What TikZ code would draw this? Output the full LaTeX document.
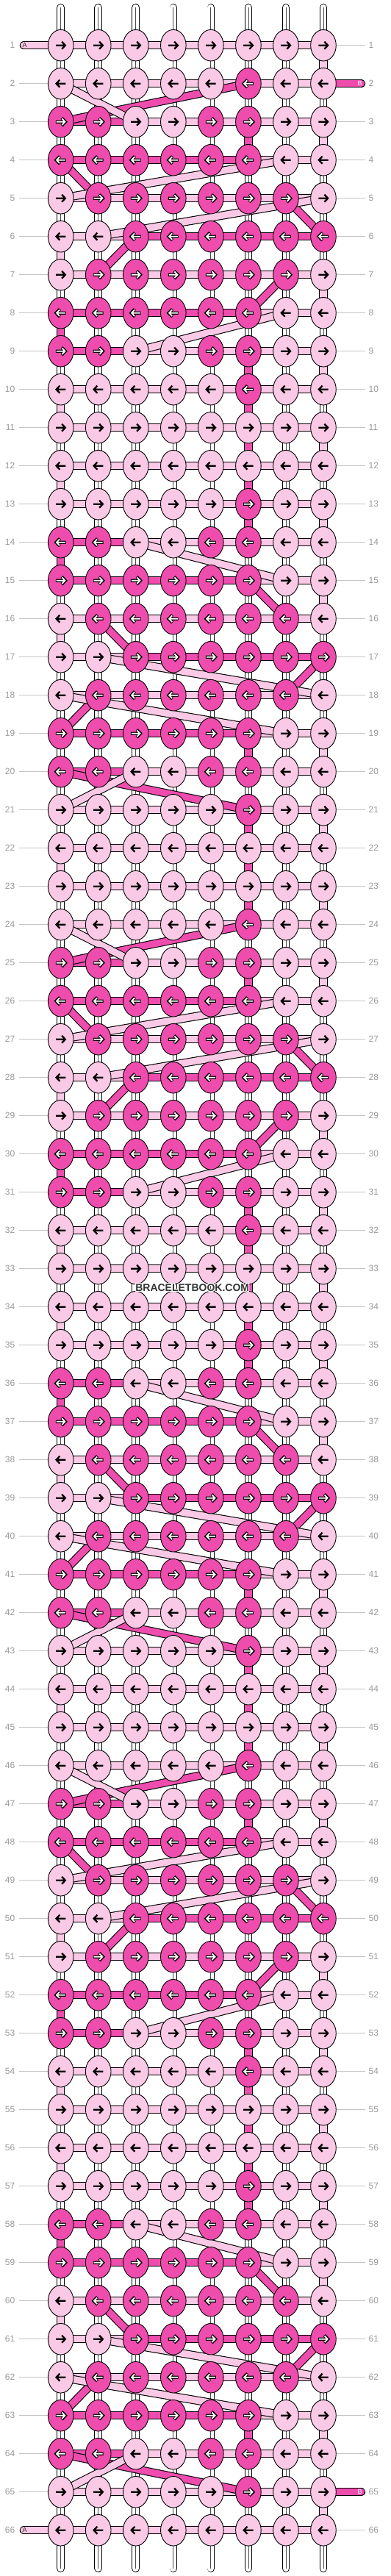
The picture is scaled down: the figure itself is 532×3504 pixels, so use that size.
\documentclass[tikz,border=0pt]{standalone}
\usepackage{fontspec}
\setmainfont{Liberation Sans}
\usetikzlibrary{shapes.geometric}
\definecolor{lp}{HTML}{F9C9E5}
\definecolor{dp}{HTML}{EE4DAE}
\definecolor{lblc}{HTML}{9A9A9A}
\definecolor{linec}{HTML}{C4C4C4}
\definecolor{wmc}{HTML}{333333}
\tikzset{
  knot/.style={ellipse, draw=black, line width=0.9pt, minimum width=34.6pt, minimum height=42.6pt, inner sep=0pt},
  lbl/.style={text=lblc, font=\fontsize{12}{14}\selectfont, inner sep=0pt},
  lblline/.style={draw=linec, line width=1pt},
  wmtext/.style={font=\bfseries\fontsize{14}{16}\selectfont, inner sep=0pt},
  arB/.pic={\draw[line width=2.3pt,line join=miter,black] (-6.7,0)--(5.6,0) (1.4,-5)--(6.1,0)--(1.4,5);},
  arW/.pic={\draw[line width=4.1pt,line join=miter,black] (-6.9,0)--(5.6,0) (1.3,-5.2)--(6.3,0)--(1.3,5.2);
            \draw[line width=1.8pt,line join=miter,white] (-6.0,0)--(5.4,0) (1.6,-4.3)--(5.7,0)--(1.6,4.3);},
}
\newcommand\strandbar[3]{\draw[line width=11.4pt,black] (#2)--(#3); \draw[line width=9.2pt,#1] (#2)--(#3);}
\begin{document}
\begin{tikzpicture}[x=1pt,y=-1pt]
\useasboundingbox (0,0) rectangle (532,3504);
\fill[white] (0,0) rectangle (532,3504);
% coordinates
\foreach \rr in {1,...,66}{
  \foreach \cc in {1,...,8}{
    \pgfmathsetmacro\xx{82.7+51.04*(\cc-1)}
    \pgfmathsetmacro\yy{61.7+52*(\rr-1)}
    \coordinate (p-\rr-\cc) at (\xx,\yy);
  }
  \pgfmathsetmacro\yy{61.7+52*(\rr-1)}
  \coordinate (ll-\rr) at (26,\yy);
  \coordinate (rl-\rr) at (497,\yy);
}
% row label lines
\foreach \rr in {2,...,65}{ \draw[lblline] (ll-\rr)--(p-\rr-1); }
\foreach \rr in {1,3,4,...,64,66}{ \draw[lblline] (rl-\rr)--(p-\rr-8); }
% warp strings
\foreach \cc in {1,...,8}{
  \pgfmathsetmacro\xx{82.7+51.04*(\cc-1)}
  \coordinate (t-\cc) at (\xx,10.4);
  \coordinate (b-\cc) at (\xx,3493.6);
  \draw[line width=10.6pt,black,line cap=round] (t-\cc)--(b-\cc);
  \draw[line width=8.8pt,white,line cap=round] (t-\cc)--(b-\cc);
  \draw[line width=0.8pt,black!70] (t-\cc)--(b-\cc);
}
% horizontal connectors
\foreach \rr in {1,...,66}{
  \pgfmathtruncatemacro\mm{mod(\rr-1,11)}
  \pgfmathtruncatemacro\ty{6-abs(5-\mm)}
  \foreach \cc in {1,...,7}{
    \pgfmathtruncatemacro\nx{\cc+1}
    \pgfmathtruncatemacro\dc{(\ty==3)*(\cc<3)+(\ty==4)*(\cc<6)+(\ty==6)*(\cc>2)}
    \ifnum\dc=1 \def\fc{dp}\else\def\fc{lp}\fi
    \strandbar{\fc}{p-\rr-\cc}{p-\rr-\nx}
  }
}
% dark strand transitions
\foreach \s in {1,23,45}{
  \foreach \oo/\ca/\cb in {0/6/6,1/6/1,2/6/6,3/1/2,4/7/8,5/3/2,6/7/6,7/1/1,8/6/6,9/6/6,10/6/6}{
    \pgfmathtruncatemacro\rA{\s+\oo}\pgfmathtruncatemacro\rB{\rA+1}
    \ifnum\rA>1 \ifnum\rA<65 \strandbar{dp}{p-\rA-\ca}{p-\rB-\cb}\fi\fi
  }
}
\foreach \s in {12,34,56}{
  \foreach \oo/\ca/\cb in {0/6/6,1/6/6,2/1/1,3/6/7,4/2/3,5/8/7,6/2/1,7/6/6,8/1/6,9/6/6,10/6/6}{
    \pgfmathtruncatemacro\rA{\s+\oo}\pgfmathtruncatemacro\rB{\rA+1}
    \ifnum\rA>1 \ifnum\rA<65 \strandbar{dp}{p-\rA-\ca}{p-\rB-\cb}\fi\fi
  }
}
% light strand transitions
\foreach \s in {1,23,45}{
  \foreach \oo/\ca/\cb in {0/8/8,1/1/3,2/8/8,3/7/1,4/8/2,5/1/1,6/8/8,7/7/3,8/8/8,9/1/1,10/8/8}{
    \pgfmathtruncatemacro\rA{\s+\oo}\pgfmathtruncatemacro\rB{\rA+1}
    \ifnum\rA<66 \strandbar{lp}{p-\rA-\ca}{p-\rB-\cb}\fi
  }
}
\foreach \s in {12,34,56}{
  \foreach \oo/\ca/\cb in {0/1/1,1/8/8,2/3/7,3/8/8,4/1/1,5/2/8,6/1/7,7/8/8,8/3/1,9/8/8,10/1/1}{
    \pgfmathtruncatemacro\rA{\s+\oo}\pgfmathtruncatemacro\rB{\rA+1}
    \ifnum\rA<66 \strandbar{lp}{p-\rA-\ca}{p-\rB-\cb}\fi
  }
}
% end bars
\coordinate (aS) at (32.4,61.7);
\coordinate (aE) at (32.4,3441.7);
\coordinate (bS) at (491.4,113.7);
\coordinate (bE) at (491.4,3389.7);
\foreach \e/\k/\f in {aS/p-1-1/lp,aE/p-66-1/lp,bS/p-2-8/dp,bE/p-65-8/dp}{
  \draw[line width=11.4pt,black,line cap=round] (\e)--(\k);
  \draw[line width=9.2pt,\f,line cap=round] (\e)--(\k);
}
\node[font=\fontsize{9}{10}\selectfont, text=black!85, inner sep=0pt] (aTs) at (33.6,61.7) {A};
\node[font=\fontsize{9}{10}\selectfont, text=black!85, inner sep=0pt] (aTe) at (33.6,3441.7) {A};
\node[font=\fontsize{9}{10}\selectfont, text=white, inner sep=0pt] (bTs) at (489.6,113.7) {B};
\node[font=\fontsize{9}{10}\selectfont, text=white, inner sep=0pt] (bTe) at (489.6,3389.7) {B};
% knots
\foreach \rr in {1,...,66}{
  \pgfmathtruncatemacro\mm{mod(\rr-1,11)}
  \pgfmathtruncatemacro\ty{6-abs(5-\mm)}
  \pgfmathtruncatemacro\rot{180*(1-mod(\rr,2))}
  \foreach \cc in {1,...,8}{
    \pgfmathtruncatemacro\dk{(\ty==2)*(\cc==6)+(\ty==3)*((\cc<3)+(\cc==5)+(\cc==6))+(\ty==4)*(\cc<7)+(\ty==5)*(\cc>1)*(\cc<8)+(\ty==6)*(\cc>2)}
    \ifnum\dk=1 \def\fc{dp}\else\def\fc{lp}\fi
    \node[knot, fill=\fc] (k-\rr-\cc) at (p-\rr-\cc) {};
    \ifnum\dk=1 \pic[rotate=\rot] at (p-\rr-\cc) {arW};\else \pic[rotate=\rot] at (p-\rr-\cc) {arB};\fi
  }
}
% row numbers
\foreach \rr in {1,...,66}{
  \pgfmathsetmacro\yy{61.7+52*(\rr-1)}
  \node[lbl, anchor=east] (nl-\rr) at (20.5,\yy) {\rr};
  \node[lbl, anchor=west] (nr-\rr) at (501.5,\yy) {\rr};
}
% watermark with light halo
\foreach \dx/\dy in {-1.2/0,1.2/0,0/-1.2,0/1.2,-0.9/-0.9,0.9/0.9,-0.9/0.9,0.9/-0.9}{
  \node[wmtext, text=white] at (261.7+\dx,1751.7+\dy) {BRACELETBOOK.COM};
}
\node[wmtext, text=wmc] (wm) at (261.7,1751.7) {BRACELETBOOK.COM};
\end{tikzpicture}
\end{document}
